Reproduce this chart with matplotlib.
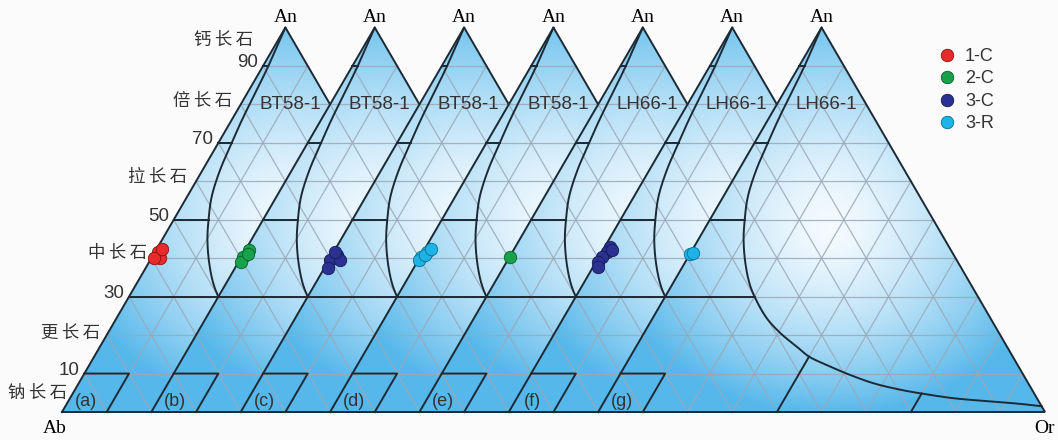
import numpy as np
import matplotlib.pyplot as plt
from matplotlib.patches import Polygon
from matplotlib.lines import Line2D

plt.rcParams['font.family'] = ['Liberation Sans', 'Noto Sans CJK SC', 'DejaVu Sans']

# ---- data -------------------------------------------------------------

sample_names = ["BT58-1", "BT58-1", "BT58-1", "BT58-1", "LH66-1", "LH66-1", "LH66-1"]
panel_tags = ["(a)", "(b)", "(c)", "(d)", "(e)", "(f)", "(g)"]

series_names = ["1-C", "2-C", "3-C", "3-R"]
series_colors = ["#e52b2b", "#17a14b", "#2b3190", "#1db3e6"]
series_edges = ["#8a1010", "#0b5e2a", "#151a55", "#0d6f93"]

# measured feldspar compositions (Or %, An %) for each panel
a_or = [0.7, 1.9, 0.6, 1.2]
a_an = [41.7, 40.0, 40.0, 42.5]
b_or = [0.7, 0.4, 0.5, 1.2]
b_an = [42.1, 40.4, 39.1, 41.0]
c_or = [1.1, 0.2, 0.9, 2.5, 0.3]
c_an = [40.8, 39.5, 37.4, 39.5, 41.6]
d_or = [0.8, 0.1, 0.1, 0.8, 1.5]
d_an = [41.7, 40.4, 39.5, 40.8, 42.3]
e_or = [0.1]
e_an = [40.4]
f_or = [1.2, 1.1, 0.6, 0.5, 1.1, 2.0]
f_an = [43.0, 41.7, 40.4, 39.1, 37.8, 42.1]
g_or = [0.1, 0.6]
g_an = [41.1, 41.4]

panel_or = [a_or, b_or, c_or, d_or, e_or, f_or, g_or]
panel_an = [a_an, b_an, c_an, d_an, e_an, f_an, g_an]
panel_series = [0, 1, 2, 3, 1, 2, 3]

# feldspar field boundary (Or %, An %), from the An apex to the Or corner
boundary_or = [0, 1.2, 2.3, 3.0, 3.9, 5.5, 7.8, 10.2, 13.6, 17.1, 20, 25.3,
               30.4, 36.1, 40, 45.1, 50.6, 57.8, 64.7, 70, 77.6, 84.7, 92.6, 98.5]
boundary_an = [100, 90, 76, 70, 63, 56, 50, 44.7, 38.7, 33.5, 30, 24.6,
               20.6, 16.9, 14.4, 12.2, 10, 7.5, 5.8, 4.8, 3.6, 2.9, 2.2, 1.5]

# plagioclase names along the Ab-An side
plag_names = ["钙长石", "倍长石", "拉长石", "中长石", "更长石", "钠长石"]
plag_name_an = [96.7, 81, 61, 41.4, 20.5, 5]
plag_name_gap = [0.056, 0.025, 0.024, 0.017, 0.018, 0.014]
an_ticks = [90, 70, 50, 30, 10]
alkali_or = [40, 70]     # Or divisions near the Ab-Or base

step = 0.2               # each panel is shifted by 20 % Or
sx, sy = 446.8, 384.5    # pixels per unit in x and y
line_c = "#1c2a35"
grid_c = "#9aa8b8"


def tern(k, orr, an):
    orr = np.asarray(orr, float)
    an = np.asarray(an, float)
    return step * k + (orr + an / 2) / 100, an / 100


def boundary_at_an(an):
    return np.interp(an, boundary_an[::-1], boundary_or[::-1])


def smooth(x, y, n=16):
    # centripetal Catmull-Rom through the boundary points
    P = np.column_stack([np.asarray(x) * sx, np.asarray(y) * sy])
    P = np.vstack([2 * P[0] - P[1], P, 2 * P[-1] - P[-2]])
    out = [P[1:2]]
    for i in range(1, len(P) - 2):
        p0, p1, p2, p3 = P[i - 1], P[i], P[i + 1], P[i + 2]
        t0 = 0.0
        t1 = t0 + np.linalg.norm(p1 - p0) ** 0.5 + 1e-9
        t2 = t1 + np.linalg.norm(p2 - p1) ** 0.5 + 1e-9
        t3 = t2 + np.linalg.norm(p3 - p2) ** 0.5 + 1e-9
        t = np.linspace(t1, t2, n)[1:, None]
        A1 = (t1 - t) / (t1 - t0) * p0 + (t - t0) / (t1 - t0) * p1
        A2 = (t2 - t) / (t2 - t1) * p1 + (t - t1) / (t2 - t1) * p2
        A3 = (t3 - t) / (t3 - t2) * p2 + (t - t2) / (t3 - t2) * p3
        B1 = (t2 - t) / (t2 - t0) * A1 + (t - t0) / (t2 - t0) * A2
        B2 = (t3 - t) / (t3 - t1) * A2 + (t - t1) / (t3 - t1) * A3
        out.append((t2 - t) / (t2 - t1) * B1 + (t - t1) / (t2 - t1) * B2)
    C = np.vstack(out)
    return C[:, 0] / sx, C[:, 1] / sy


def shade(ax, k, z):
    # light centre, blue towards the edges
    xs = np.linspace(step * k, step * k + 1, 400)
    ys = np.linspace(0, 1, 350)
    X, Y = np.meshgrid(xs, ys)
    cx, cy = step * k + 0.52, 0.47
    d = np.sqrt(((X - cx) / 0.52) ** 2 + ((Y - cy) / 0.62) ** 2)
    t = np.clip(d, 0, 1) ** 1.4
    t = np.clip(t + 0.3 * (1 - Y) ** 4, 0, 1)
    light = np.array([0.975, 0.988, 1.0])
    dark = np.array([0.34, 0.72, 0.92])
    img = light * (1 - t[..., None]) + dark * t[..., None]
    im = ax.imshow(img, extent=(xs[0], xs[-1], 0, 1), origin="lower",
                   aspect="auto", zorder=z, interpolation="bilinear")
    tx, ty = tern(k, [0, 0, 100], [0, 100, 0])
    tri = Polygon(np.column_stack([tx, ty]), closed=True, transform=ax.transData)
    im.set_clip_path(tri)


def draw_panel(ax, k):
    z = 10 * k
    shade(ax, k, z)

    # 10 % grid in the three directions
    for i in range(10, 100, 10):
        for orr, an in (([0, 100 - i], [i, i]), ([i, i], [0, 100 - i]),
                        ([100 - i, 0], [0, 100 - i])):
            x, y = tern(k, orr, an)
            ax.plot(x, y, color=grid_c, lw=0.9, alpha=0.85, zorder=z + 1)

    # outline
    x, y = tern(k, [0, 0, 100, 0], [0, 100, 0, 0])
    ax.plot(x, y, color=line_c, lw=1.4, zorder=z + 2, solid_joinstyle="miter")

    # field boundary curve
    x, y = smooth(*tern(k, boundary_or, boundary_an))
    ax.plot(x, y, color=line_c, lw=1.4, zorder=z + 2)

    # plagioclase divisions
    for an in [90, 70, 50, 30]:
        x, y = tern(k, [0, boundary_at_an(an)], [an, an])
        ax.plot(x, y, color=line_c, lw=1.4, zorder=z + 2)
    x, y = tern(k, [0, 10, 10], [10, 10, 0])
    ax.plot(x, y, color=line_c, lw=1.4, zorder=z + 2)

    # alkali feldspar divisions
    for orr in alkali_or:
        top = np.interp(orr, boundary_or, boundary_an)
        x, y = tern(k, [orr, orr], [0, top])
        ax.plot(x, y, color=line_c, lw=1.4, zorder=z + 2)


fig = plt.figure(figsize=(10.58, 4.4), dpi=100)
fig.patch.set_facecolor("#fbfbfb")
ax = fig.add_axes([0, 0, 1, 1])
ax.set_facecolor("#fbfbfb")

for k in range(7):
    draw_panel(ax, k)

    # sample data
    s = panel_series[k]
    x, y = tern(k, panel_or[k], panel_an[k])
    ax.scatter(x, y, s=80, color=series_colors[s], edgecolors=series_edges[s],
               linewidths=0.6, zorder=200)

    # labels
    x, y = tern(k, 11, 80)
    ax.text(x, y, sample_names[k], ha="center", va="center", fontsize=13.5,
            color="#333333", zorder=300)
    x, y = tern(k, 4, 2.7)
    ax.text(x, y, panel_tags[k], ha="center", va="center", fontsize=13,
            color="#333333", zorder=300)
    x, y = tern(k, 0, 100)
    ax.text(x, y + 0.027, "An", ha="center", va="center", fontsize=14,
            family="Liberation Serif", zorder=300)

ax.text(-0.016, -0.042, "Ab", ha="center", va="center", fontsize=14,
        family="Liberation Serif")
ax.text(2.2, -0.044, "Or", ha="center", va="center", fontsize=14,
        family="Liberation Serif")

# An ticks and plagioclase names on the first triangle
for an in an_ticks:
    x, y = tern(0, 0, an)
    ax.text(x - 0.011, y + 0.008, str(an), ha="right", va="center",
            fontsize=13.5, color="#333333", zorder=300)
for name, an, gap in zip(plag_names, plag_name_an, plag_name_gap):
    x, y = tern(0, 0, an)
    ax.text(x - gap, y, "\u2009".join(name), ha="right", va="center",
            fontsize=12.5, color="#333333", zorder=300,
            family=["Noto Sans CJK SC", "DejaVu Sans"])

handles = [Line2D([], [], marker="o", ls="", markersize=9, markerfacecolor=c,
                  markeredgecolor=e, markeredgewidth=0.6, label=n)
           for n, c, e in zip(series_names, series_colors, series_edges)]
leg = ax.legend(handles=handles, loc="upper left", frameon=False, fontsize=13,
                bbox_to_anchor=(938 / 1058, 1 - 48 / 440), borderaxespad=0,
                borderpad=0, handlelength=1.0, handletextpad=0.5,
                labelspacing=0.3)
for t in leg.get_texts():
    t.set_color("#333333")

ax.set_xlim(-62 / sx, (1058 - 62) / sx)
ax.set_ylim((412 - 440) / sy, 412 / sy)
ax.axis("off")

fig.savefig("out.png", dpi=100, facecolor=fig.get_facecolor())
